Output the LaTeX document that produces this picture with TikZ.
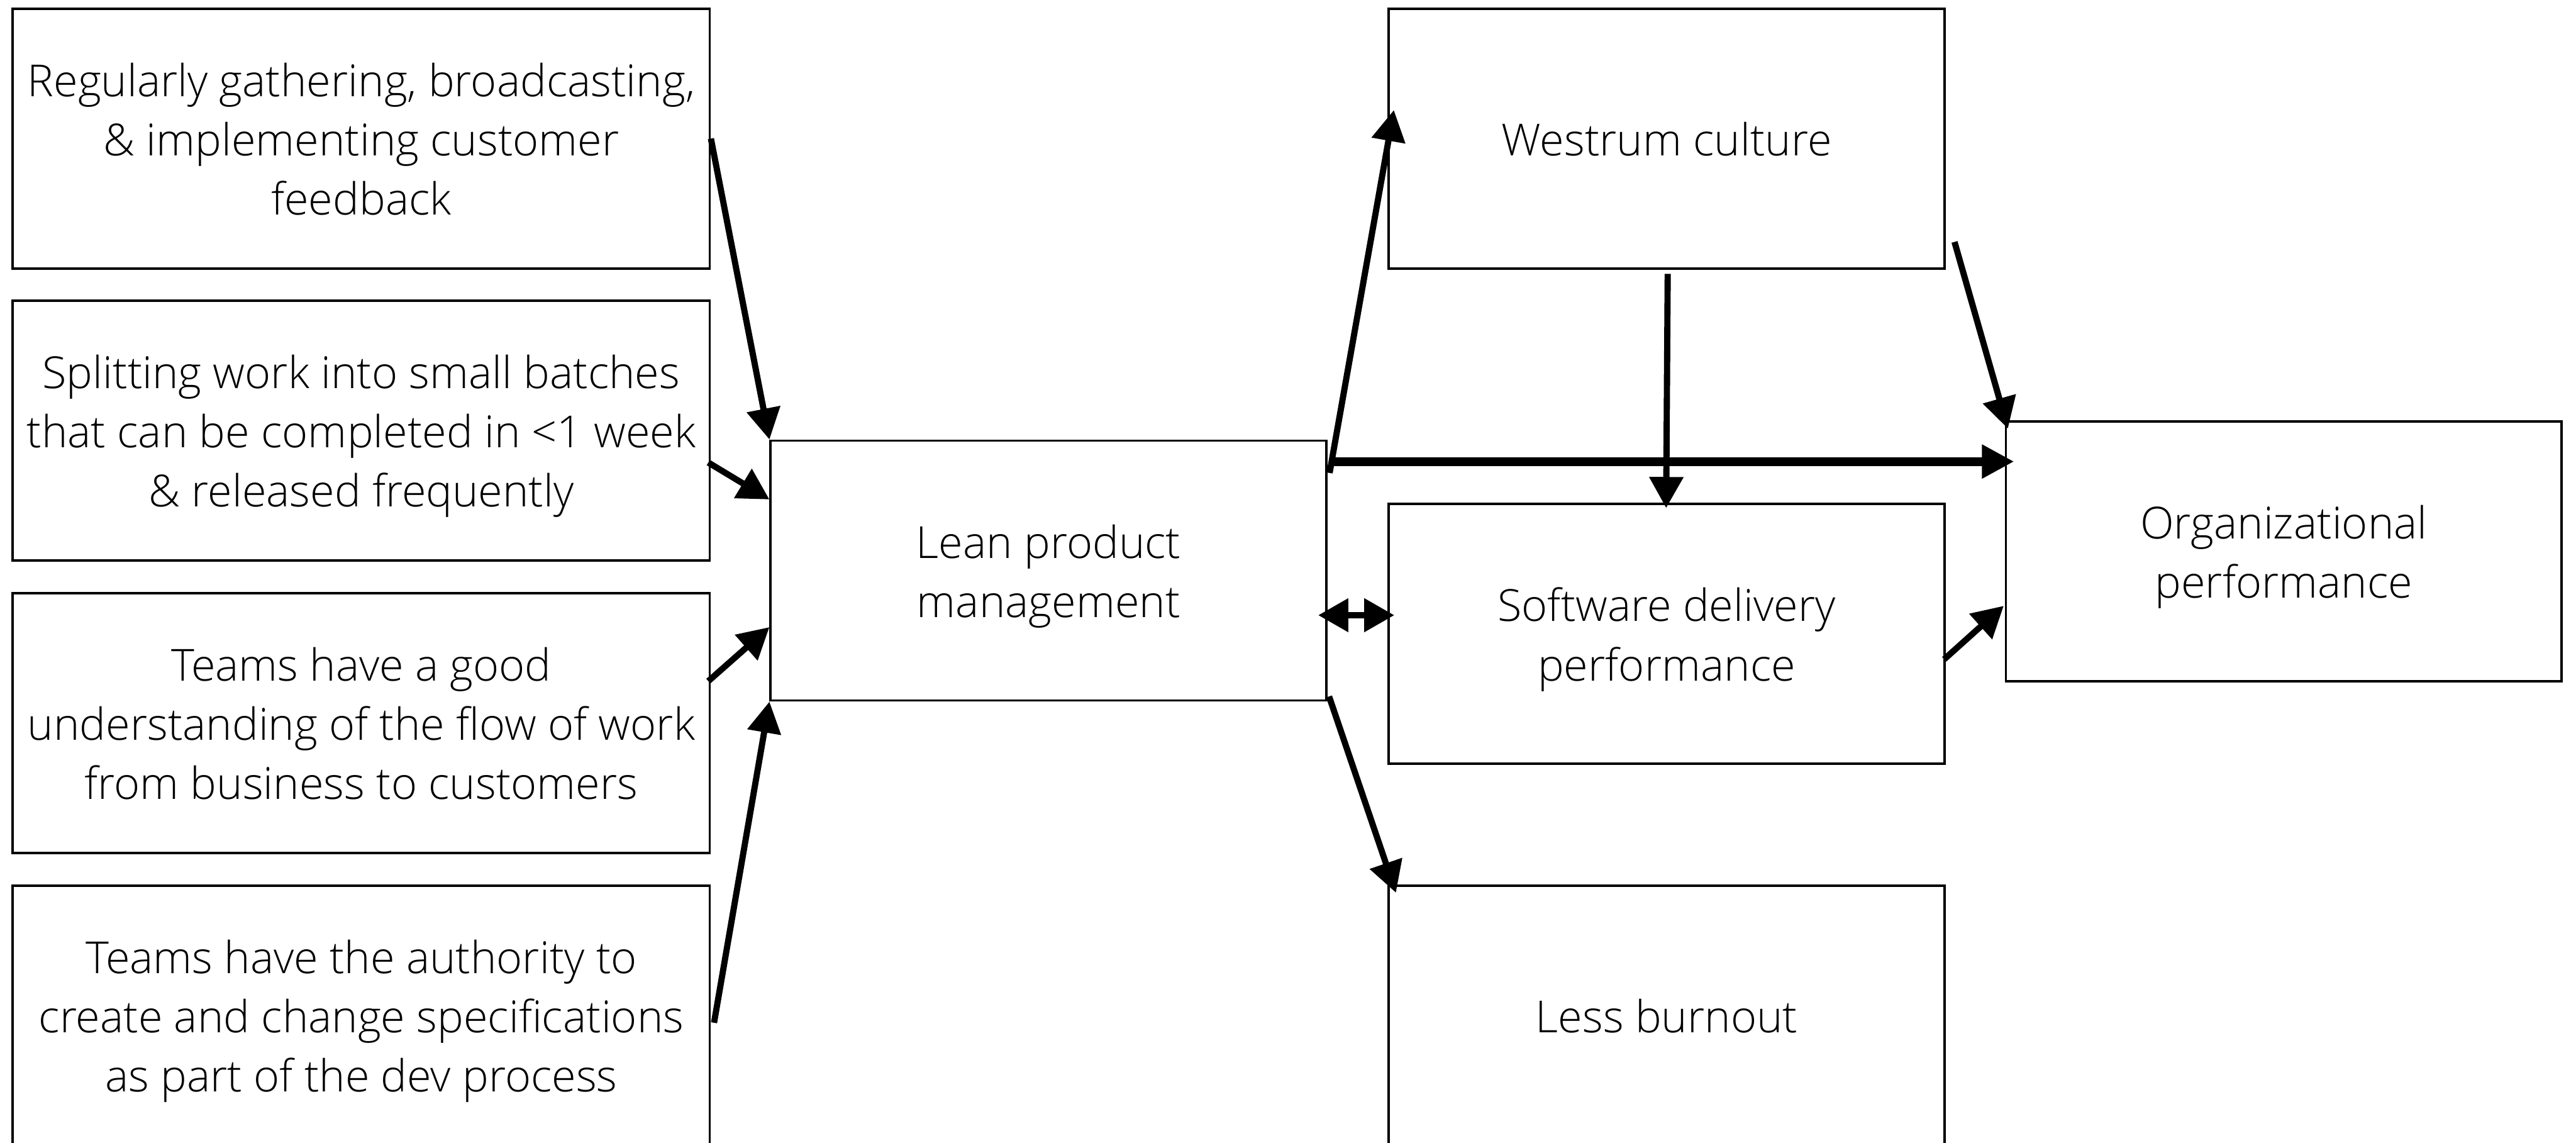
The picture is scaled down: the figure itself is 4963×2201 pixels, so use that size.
\documentclass[tikz,border=0pt]{standalone}
\usepackage{fontspec}
\IfFontExistsTF{Open Sans Light}{\setmainfont{Open Sans Light}}{\setmainfont{Open Sans}}
\usetikzlibrary{arrows.meta,calc}
\newcommand\bt[1]{\rule{0pt}{25.9pt}#1\rule[-7.1pt]{0pt}{7.1pt}}
\begin{document}
\begin{tikzpicture}[x=0.01cm,y=-0.01cm,
  box/.style={draw, line width=1.3pt, minimum height=5cm, inner sep=0pt, align=center,
              font=\fontsize{24.2}{32.4}\selectfont},
  wide/.style={box, minimum width=13.42cm},
  mid/.style={box, minimum width=10.7cm},
  arr/.style={line width=3.4pt, -{Triangle[length=17pt,width=18pt]}},
  thickarr/.style={line width=4.9pt, -{Triangle[length=17.6pt,width=17.5pt]}},
  dblarr/.style={line width=3.6pt, {Triangle[length=16.5pt,width=17.6pt]}-{Triangle[length=16.5pt,width=17.6pt]}},
]
\useasboundingbox (0,0) rectangle (4963,2201);

\node[wide] (b1) at (696,267) {\bt{Regularly gathering, broadcasting,\\ \& implementing customer\\ feedback}};
\node[wide] (b2) at (696,829) {\bt{Splitting work into small batches\\ that can be completed in <1 week\\ \& released frequently}};
\node[wide] (b3) at (696,1393) {\bt{Teams have a good\\ understanding of the flow of work\\ from business to customers}};
\node[wide] (b4) at (696,1956) {\bt{Teams have the authority to\\ create and change specifications\\ as part of the dev process}};
\node[mid] (lean) at (2020,1099) {\bt{Lean product\\ management}};
\node[mid] (west) at (3211,267) {\bt{Westrum culture}};
\node[mid] (sdp) at (3211,1221) {\bt{Software delivery\\ performance}};
\node[mid] (lb) at (3211,1956) {\bt{Less burnout}};
\node[mid] (org) at (4400,1062) {\bt{Organizational\\ performance}};

\draw[arr] (b1.east) -- (lean.north west);
\draw[arr] ($(b2.east)+(-5,62)$) -- ($(lean.west)+(0,-137)$);
\draw[arr] ($(b3.east)+(-5,-81)$) -- ($(lean.west)+(0,109)$);
\draw[arr] ($(b4.east)+(6,14)$) -- (lean.south west);
\draw[arr] ($(lean.east)+(4,-188)$) -- ($(west.west)+(12,-55)$);
\draw[thickarr] ($(lean.east)+(4,-210)$) -- ($(org.west)+(18,-173)$);
\draw[arr] ($(west.south)+(2,8)$) -- ($(sdp.north)+(-1,10)$);
\draw[arr] ($(west.east)+(17,199)$) -- ($(org.north west)+(6,16)$);
\draw[dblarr] ($(lean.east)+(-18,86)$) -- ($(sdp.west)+(13,-36)$);
\draw[arr] ($(sdp.east)+(-3,49)$) -- ($(org.west)+(-2,105)$);
\draw[arr] ($(lean.south east)+(3,-10)$) -- ($(lb.north west)+(16,16)$);
\end{tikzpicture}
\end{document}
